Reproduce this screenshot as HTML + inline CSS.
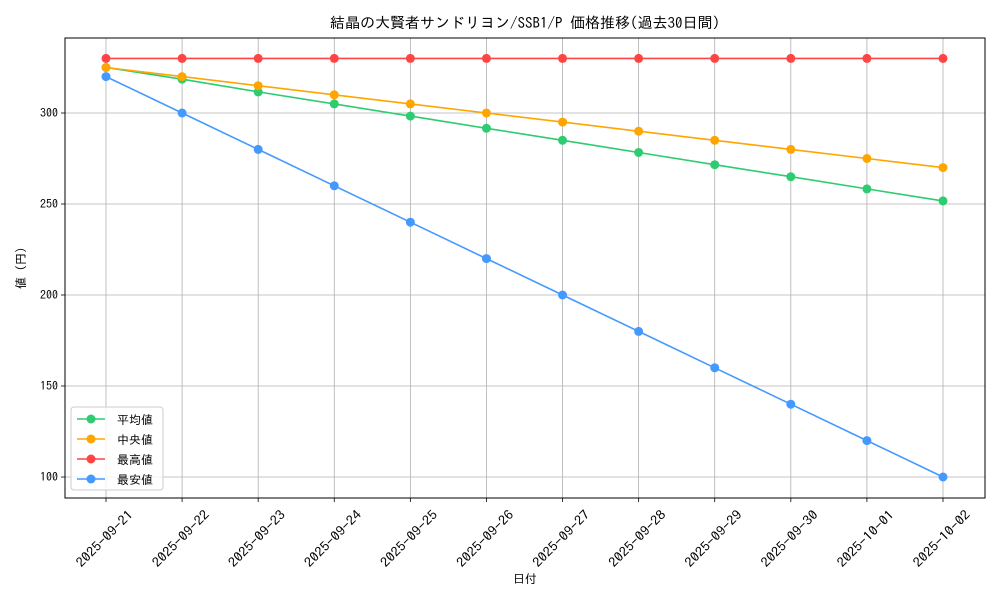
<!DOCTYPE html>
<html><head><meta charset="utf-8"><style>
body{margin:0;background:#fff;}
svg text{font-family:"IPAGothic","Liberation Sans","Noto Sans CJK JP",sans-serif;fill:#000;}
</style></head><body>
<svg id="chart" width="1000" height="600" xmlns="http://www.w3.org/2000/svg">
<rect width="1000" height="600" fill="#fff"/>
<text x="525" y="28" font-size="15" text-anchor="middle">結晶の大賢者サンドリヨン/SSB1/P 価格推移(過去30日間)</text>
<g id="grid"></g><g id="axes"></g><g id="series"></g>
<text x="525" y="583" font-size="12" text-anchor="middle">日付</text>
<text transform="translate(25,268) rotate(-90)" font-size="12" text-anchor="middle">値 (円)</text>
<g id="legend"></g>
</svg>
<script>
const dates=["2025-09-21","2025-09-22","2025-09-23","2025-09-24","2025-09-25","2025-09-26","2025-09-27","2025-09-28","2025-09-29","2025-09-30","2025-10-01","2025-10-02"];
const avgVals=[325,318.6,311.6,305,298.3,291.6,285,278.3,271.6,265,258.3,251.7];
const medVals=[325,320,315,310,305,300,295,290,285,280,275,270];
const maxVals=[330,330,330,330,330,330,330,330,330,330,330,330];
const minVals=[320,300,280,260,240,220,200,180,160,140,120,100];
const yTicks=[100,150,200,250,300];
const seriesNames=["平均値","中央値","最高値","最安値"];
const NS="http://www.w3.org/2000/svg";
const L=65,R=985,T=38,B=498;
const x=i=>106+i*(943-106)/(dates.length-1);
const y=v=>477-(v-100)*(477-113)/200;
function mk(tag,attrs,parent){const e=document.createElementNS(NS,tag);for(const k in attrs)e.setAttribute(k,attrs[k]);parent.appendChild(e);return e;}
const grid=document.getElementById('grid'),axes=document.getElementById('axes'),ser=document.getElementById('series'),leg=document.getElementById('legend');
dates.forEach((d,i)=>{
 const g=mk('line',{x1:x(i),x2:x(i),y1:T,y2:B,stroke:'#b0b0b0','stroke-width':0.8},grid);
 
 
 mk('line',{x1:x(i),x2:x(i),y1:B,y2:B+4,stroke:'#000','stroke-width':0.8},axes);
 const cx=x(i)-1,cy=539;
 const t=mk('text',{x:cx,y:cy+4,'font-size':13,'text-anchor':'middle',textLength:74,lengthAdjust:'spacingAndGlyphs',transform:`rotate(-45 ${cx} ${cy})`},axes);
 
 
 t.textContent=d;
});
yTicks.forEach(v=>{
 const g=mk('line',{x1:L,x2:R,y1:y(v),y2:y(v),stroke:'#b0b0b0','stroke-width':0.8},grid);
 
 
 mk('line',{x1:L-4,x2:L,y1:y(v),y2:y(v),stroke:'#000','stroke-width':0.8},axes);
 const t=mk('text',{x:L-7,y:y(v)+4,'font-size':12,'text-anchor':'end'},axes);
 
 
 t.textContent=v;
});
const frame=mk('rect',{x:L,y:T,width:R-L,height:B-T,fill:'none',stroke:'#000','stroke-width':1},axes);


const all=[avgVals,medVals,maxVals,minVals],cols=["#2ecc71","#ffa500","#ff4444","#4499ff"],keys=["average","median","max","min"];
all.forEach((vals,s)=>{
 const p=mk('polyline',{points:vals.map((v,i)=>x(i)+','+y(v)).join(' '),fill:'none',stroke:cols[s],'stroke-width':1.6},ser);
 
 
 vals.forEach((v,i)=>{const c=mk('circle',{cx:x(i),cy:y(v),r:4.5,fill:cols[s]},ser);
  
  });
});
const lb=mk('rect',{x:71,y:407,width:92,height:83,rx:3,fill:'#fff','fill-opacity':0.8,stroke:'#ccc'},leg);


seriesNames.forEach((n,s)=>{
 const yy=419+s*20;
 const g=mk('g',{},leg);
 
 
 mk('line',{x1:77,x2:105,y1:yy,y2:yy,stroke:cols[s],'stroke-width':1.6},g);
 mk('circle',{cx:91,cy:yy,r:4.5,fill:cols[s]},g);
 const t=mk('text',{x:117,y:yy+5,'font-size':12},g);t.textContent=n;
});
</script>
</body></html>
